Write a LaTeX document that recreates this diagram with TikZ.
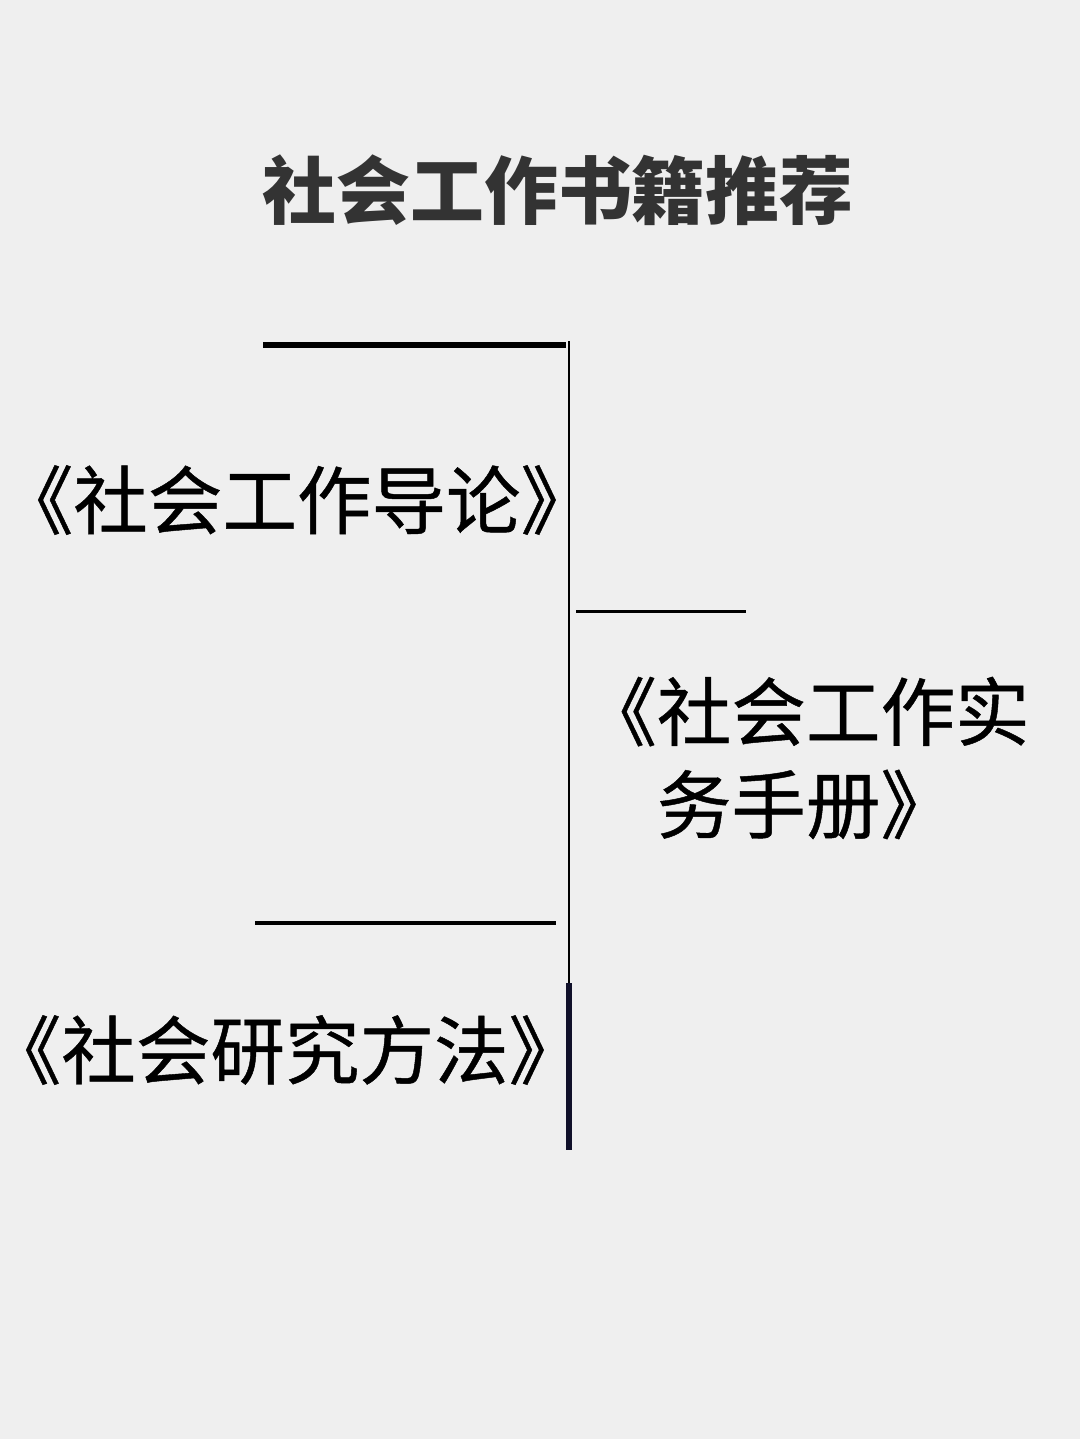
\documentclass[tikz,border=0pt]{standalone}
\usepackage{fontspec}
\newfontfamily\cjk[FakeBold=0.6]{Noto Sans CJK SC}
\newfontfamily\cjktitle{Noto Sans CJK SC}
\usetikzlibrary{positioning}

\definecolor{paper}{HTML}{EFEFEF}
\definecolor{titlegray}{HTML}{333333}
\definecolor{spinenavy}{HTML}{10102A}

\begin{document}
\begin{tikzpicture}[x=0.01cm,y=-0.01cm,
    title/.style={font=\cjktitle\bfseries\fontsize{21pt}{24pt}\selectfont,text=titlegray,inner sep=0pt},
    book/.style={font=\cjk\fontsize{21.2pt}{26.4pt}\selectfont,text=black,inner sep=0pt,align=center},
    bar/.style={line width=1.6pt,black},
    thinbar/.style={line width=0.85pt,black},
    spine/.style={line width=0.55pt,black}]

  % --- background ---
  \useasboundingbox[fill=paper] (0,0) rectangle (1080,1439);

  % --- title ---
  \node[title] (head) at (558,190) {社会工作书籍推荐};

  % --- spine ---
  \coordinate (spinetop) at (569,341);
  \coordinate (spinemid) at (569,983);
  \coordinate (spinebot) at (569,1150);
  \draw[spine] (spinetop) -- (spinemid);
  \draw[line width=1.8pt,spinenavy] (spinemid) -- (spinebot);

  % --- book one ---
  \coordinate (oneL) at (263,345);
  \coordinate (oneR) at (566,345);
  \draw[bar] (oneL) -- (oneR);
  \node[book] (intro) at (297,500) {《社会工作导论》};

  % --- book two ---
  \coordinate (twoL) at (576,611);
  \coordinate (twoR) at (746,611);
  \draw[thinbar] (twoL) -- (twoR);
  \node[book] (manual) at (806,758) {《社会工作实\\务手册》};

  % --- book three ---
  \coordinate (threeL) at (255,923);
  \coordinate (threeR) at (556,923);
  \draw[line width=1.3pt] (threeL) -- (threeR);
  \node[book] (method) at (285,1050) {《社会研究方法》};

\end{tikzpicture}
\end{document}
